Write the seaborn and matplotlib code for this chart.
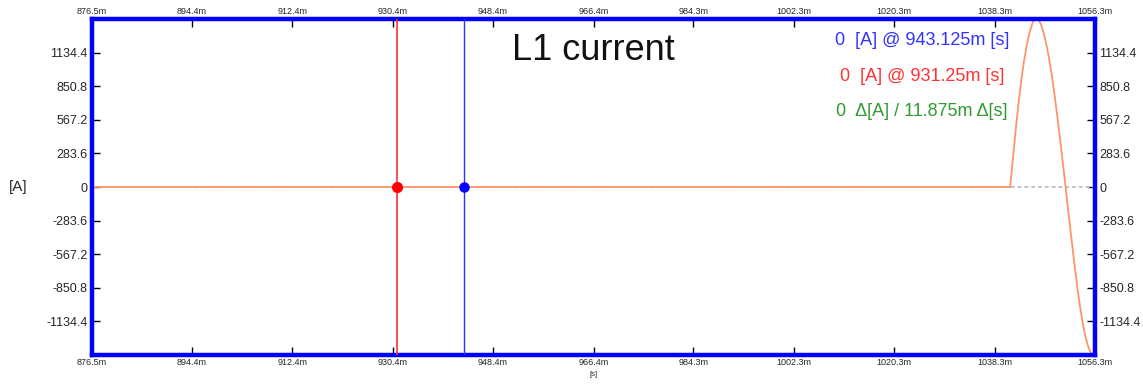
"""L1 current scope trace with two cursors, redrawn with seaborn."""

import matplotlib.pyplot as plt
import pandas as pd
import seaborn as sns

# values (time in ms, current in A)
time_ms = [
    876.5, 1041.1,
    1041.6, 1042.1, 1042.6, 1043.1, 1043.6, 1044.1, 1044.6, 1045.1, 1045.6, 1046.1,
    1046.6, 1047.1, 1047.6, 1048.1, 1048.6, 1049.1, 1049.6, 1050.1, 1050.6, 1051.1,
    1051.6, 1052.1, 1052.6, 1053.1, 1053.6, 1054.1, 1054.6, 1055.1, 1055.6, 1056.1,
    1056.3,
]
current_a = [
    0, 0,
    250, 490, 710, 905, 1070, 1205, 1310, 1385, 1420, 1415,
    1375, 1300, 1200, 1075, 930, 760, 575, 380, 175, -30,
    -240, -445, -645, -835, -1004, -1149, -1265, -1350, -1403, -1420,
    -1415,
]

x_ticks = [876.5, 894.4, 912.4, 930.4, 948.4, 966.4, 984.3, 1002.3, 1020.3, 1038.3, 1056.3]
x_tick_labels = [f"{t:.1f}m" for t in x_ticks]
y_ticks = [-1134.4, -850.8, -567.2, -283.6, 0, 283.6, 567.2, 850.8, 1134.4]
y_tick_labels = ["-1134.4", "-850.8", "-567.2", "-283.6", "0", "283.6", "567.2", "850.8", "1134.4"]
x_limits = (876.5, 1056.3)
y_limits = (-1418.0, 1418.0)

cursor_red_ms = 931.25
cursor_blue_ms = 943.125
cursor_value_a = 0

readouts = [
    ("0  [A] @ 943.125m [s]", "#3333ff"),
    ("0  [A] @ 931.25m [s]", "#ff3333"),
    ("0  \u0394[A] / 11.875m \u0394[s]", "#339933"),
]

sns.set_theme(style="white")
plt.rcParams["font.family"] = ["Liberation Sans", "DejaVu Sans"]

trace = pd.DataFrame({"time": time_ms, "current": current_a})

W, H = 1143, 385
fig = plt.figure(figsize=(W / 100, H / 100), dpi=100)
ax = fig.add_axes([92 / W, 1 - 355 / H, (1095 - 92) / W, (355 - 19) / H])

ax.axhline(0, color="#c4c4c4", lw=1.4, ls=(0, (2, 1.5)), zorder=1)
sns.lineplot(data=trace, x="time", y="current", ax=ax, color="#ff9468",
             lw=1.3, zorder=2)

ax.axvline(cursor_red_ms, color="#ff3030", lw=1.2, zorder=3)
ax.axvline(cursor_blue_ms, color="#3030ff", lw=1.0, zorder=3)
ax.plot([cursor_red_ms], [cursor_value_a], "o", color="#ff0000", ms=7, zorder=4)
ax.plot([cursor_blue_ms], [cursor_value_a], "o", color="#0000ff", ms=6.5, zorder=4)

ax.set_xlim(*x_limits)
ax.set_ylim(*y_limits)
ax.set_xticks(x_ticks)
ax.set_xticklabels(x_tick_labels)
ax.set_yticks(y_ticks)
ax.set_yticklabels(y_tick_labels)

ax.tick_params(axis="x", which="both", direction="in", length=6, width=1,
               color="black", top=True, bottom=True, labeltop=True,
               labelbottom=True, labelsize=6.5, pad=2)
ax.tick_params(axis="y", which="both", direction="in", length=6, width=1,
               color="black", left=True, right=True, labelleft=True,
               labelright=True, labelsize=9, pad=3)

for spine in ax.spines.values():
    spine.set_color("#0000ff")
    spine.set_linewidth(3.2)

ax.set_xlabel("[s]", fontsize=5.5, labelpad=3)
ax.set_ylabel("")
fig.text(18 / W, 1 - 187 / H, "[A]", fontsize=11, ha="center", va="center")

ax.text(0.5, 0.905, "L1 current", transform=ax.transAxes, fontsize=26,
        ha="center", va="center", color="#111111")

for i, (label, colour) in enumerate(readouts):
    ax.text(0.8275, 0.935 - i * 0.105, label, transform=ax.transAxes,
            fontsize=13, ha="center", va="center", color=colour)

fig.savefig("out.png", dpi=100)
